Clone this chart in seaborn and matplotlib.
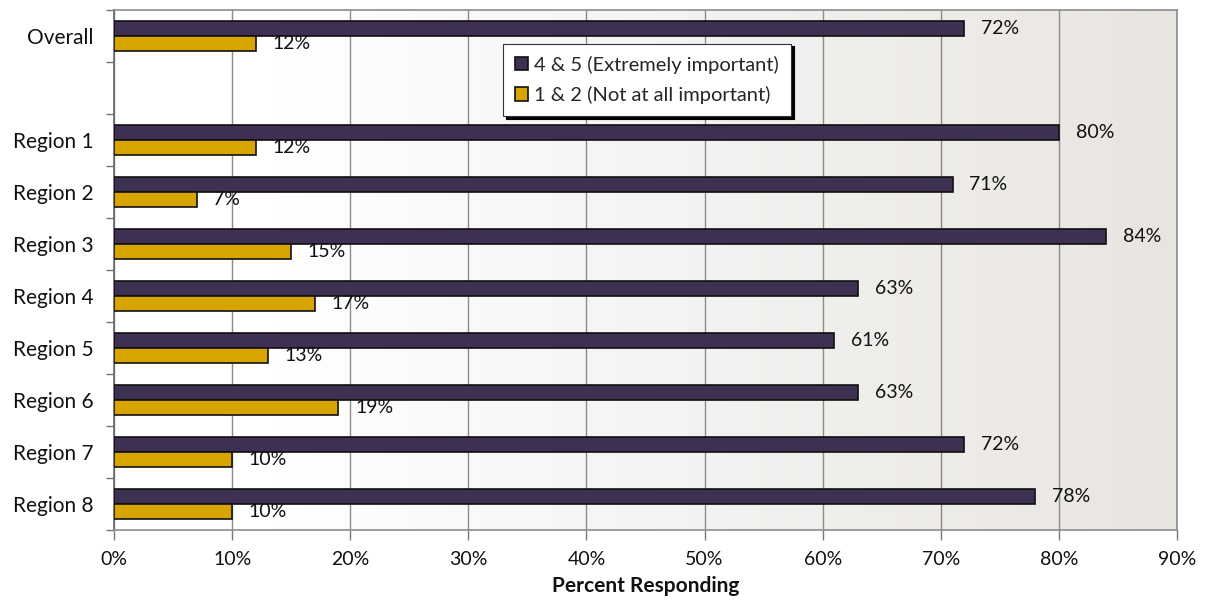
import matplotlib
matplotlib.use("Agg")
import matplotlib.pyplot as plt
from matplotlib.colors import LinearSegmentedColormap
from matplotlib.ticker import FixedLocator, PercentFormatter
import numpy as np
import pandas as pd
import seaborn as sns

sns.set_theme(style="white")
plt.rcParams["font.family"] = ["Lato", "DejaVu Sans"]

# data
categories = ["Overall", "Region 1", "Region 2", "Region 3", "Region 4",
              "Region 5", "Region 6", "Region 7", "Region 8"]
important = [72, 80, 71, 84, 63, 61, 63, 72, 78]
not_important = [12, 12, 7, 15, 17, 13, 19, 10, 10]
series = ["4 & 5 (Extremely important)", "1 & 2 (Not at all important)"]
order = ["Overall", " "] + categories[1:]

df = pd.DataFrame({
    "category": categories * 2,
    "value": important + not_important,
    "series": [series[0]] * len(categories) + [series[1]] * len(categories),
})

fig = plt.figure(figsize=(12.08, 6.01), dpi=100)
ax = fig.add_axes([0.0944, 0.118, 0.8799, 0.8656])

# background gradient (white -> light grey)
grad = np.clip((np.linspace(0, 1, 1200) - 0.15) / 0.85, 0, 1).reshape(1, -1)
cmap = LinearSegmentedColormap.from_list("bg", ["#ffffff", "#e8e5e1"], N=1024)
ax.imshow(grad, cmap=cmap, aspect="auto", extent=[0, 1, 0, 1],
          transform=ax.transAxes, zorder=0, interpolation="bilinear")

sns.barplot(data=df, y="category", x="value", hue="series", order=order,
            hue_order=series, palette=["#3e3052", "#d8a400"], orient="h",
            width=0.58, gap=0, edgecolor="#111111", linewidth=1.2,
            saturation=1, ax=ax, zorder=3)

for cont in ax.containers:
    ax.bar_label(cont, fmt="%d%%", padding=12, fontsize=14, color="#111111")

ax.set_xlim(0, 90)
ax.set_ylim(9.5, -0.5)
ax.xaxis.set_major_locator(FixedLocator(np.arange(0, 91, 10)))
ax.xaxis.set_major_formatter(PercentFormatter(decimals=0))
ax.grid(axis="x", color="#8c8c8c", linewidth=1, zorder=1)
ax.set_axisbelow(True)

ax.yaxis.set_minor_locator(FixedLocator(np.arange(-0.5, 10, 1)))
ax.tick_params(axis="y", which="major", length=0, labelsize=15, pad=15,
               colors="#111111")
ax.tick_params(axis="y", which="minor", length=6, width=1, color="#777777",
               left=True)
ax.tick_params(axis="x", which="major", length=7, width=1, color="#777777",
               bottom=True, labelsize=14, pad=8, labelcolor="#111111")

for side in ["top", "right", "bottom"]:
    ax.spines[side].set_color("#8c8c8c")
ax.spines["left"].set_color("#666666")
for s in ax.spines.values():
    s.set_linewidth(1.2)

ax.set_ylabel("")
ax.set_xlabel("Percent Responding", fontsize=15, fontweight="bold",
              color="#111111", labelpad=6)

leg = ax.legend(loc="upper left", bbox_to_anchor=(0.366, 0.935), fontsize=14.5,
                frameon=True, fancybox=False, edgecolor="#333333",
                framealpha=1, handlelength=0.65, handleheight=0.65,
                handletextpad=0.3, borderpad=0.6, labelspacing=0.6,
                borderaxespad=0,
                shadow={"color": "black", "alpha": 1})
leg.get_frame().set_linewidth(0.8)
leg.set_zorder(10)

fig.savefig("out.png", dpi=100)
